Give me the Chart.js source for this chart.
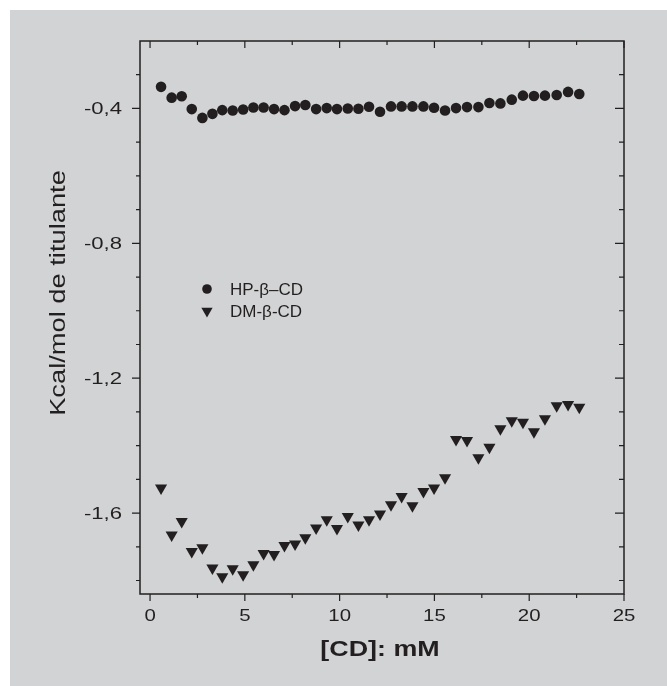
<!DOCTYPE html>
<html>
<head>
<meta charset="utf-8">
<script src="https://cdn.jsdelivr.net/npm/chart.js@4.4.1/dist/chart.umd.min.js"></script>
<style>
  html, body { margin: 0; padding: 0; background: #fff; }
  #c { position: absolute; left: 0; top: 0; }
</style>
</head>
<body>
<canvas id="c" width="667" height="686"></canvas>
<script>
// [CD] in mM (same titration steps for both cyclodextrins)
const cdConc = [0.58, 1.14, 1.67, 2.20, 2.76, 3.29, 3.81, 4.36, 4.91, 5.45,
                5.99, 6.54, 7.09, 7.65, 8.19, 8.76, 9.32, 9.86, 10.43, 10.99,
                11.55, 12.13, 12.71, 13.27, 13.84, 14.42, 14.98, 15.56, 16.14, 16.72,
                17.32, 17.90, 18.48, 19.08, 19.67, 20.25, 20.83, 21.45, 22.05, 22.64];

const hpBeta = [-0.336, -0.368, -0.364, -0.402, -0.428, -0.416, -0.405, -0.406, -0.403, -0.397,
                -0.397, -0.402, -0.405, -0.393, -0.390, -0.402, -0.399, -0.402, -0.400, -0.401,
                -0.395, -0.410, -0.394, -0.394, -0.394, -0.394, -0.398, -0.406, -0.399, -0.396,
                -0.396, -0.384, -0.385, -0.374, -0.362, -0.363, -0.362, -0.360, -0.351, -0.357];

const dmBeta = [-1.526, -1.665, -1.625, -1.714, -1.703, -1.763, -1.789, -1.765, -1.783, -1.753,
                -1.720, -1.723, -1.696, -1.692, -1.673, -1.644, -1.620, -1.646, -1.610, -1.635,
                -1.620, -1.603, -1.575, -1.551, -1.578, -1.536, -1.526, -1.495, -1.382, -1.385,
                -1.436, -1.405, -1.350, -1.326, -1.331, -1.359, -1.320, -1.282, -1.278, -1.286];

const seriesNames = ['HP-\u03b2\u2013CD', 'DM-\u03b2-CD'];

const xTicks = [0, 5, 10, 15, 20, 25];
const xTickLabels = ['0', '5', '10', '15', '20', '25'];
const xMinor = [2.5, 7.5, 12.5, 17.5, 22.5];
const yTicks = [-0.4, -0.8, -1.2, -1.6];
const yTickLabels = ['-0,4', '-0,8', '-1,2', '-1,6'];
const yMinor = [-1.8, -1.7, -1.5, -1.4, -1.3, -1.1, -1.0, -0.9, -0.7, -0.6, -0.5, -0.3];

const ink = '#231f20';
const panel = '#d1d3d4';
const fontName = "'Liberation Sans', Arial, sans-serif";

function stretchText(ctx, txt, x, y, align, sx) {
    ctx.save();
    ctx.translate(x, y);
    ctx.scale(sx, 1);
    ctx.textAlign = align;
    ctx.textBaseline = 'alphabetic';
    ctx.fillText(txt, 0, 0);
    ctx.restore();
}

function marker(ctx, style, x, y) {
    if (Chart.helpers && Chart.helpers.drawPoint) {
        Chart.helpers.drawPoint(ctx, style, x, y);
    }
}

const panelPlugin = {
    id: 'panel',
    beforeDraw(chart) {
        const ctx = chart.ctx;
        ctx.save();
        ctx.fillStyle = '#fff';
        ctx.fillRect(0, 0, chart.width, chart.height);
        ctx.fillStyle = panel;
        ctx.fillRect(10, 10, chart.width - 10, chart.height - 10);
        ctx.restore();
    }
};

const framePlugin = {
    id: 'frame',
    afterDraw(chart) {
        const ctx = chart.ctx;
        const xs = chart.scales.x, ys = chart.scales.y;
        const a = chart.chartArea;
        ctx.save();
        ctx.strokeStyle = ink;
        ctx.fillStyle = ink;
        ctx.lineWidth = 1.5;
        ctx.strokeRect(a.left, a.top, a.right - a.left, a.bottom - a.top);

        ctx.lineWidth = 1.2;
        ctx.beginPath();
        // x ticks: bottom outward, top inward
        xTicks.forEach(v => {
            const p = xs.getPixelForValue(v);
            ctx.moveTo(p, a.bottom); ctx.lineTo(p, a.bottom + 7);
            ctx.moveTo(p, a.top); ctx.lineTo(p, a.top + 7);
        });
        xMinor.forEach(v => {
            const p = xs.getPixelForValue(v);
            ctx.moveTo(p, a.bottom); ctx.lineTo(p, a.bottom + 4);
            ctx.moveTo(p, a.top); ctx.lineTo(p, a.top + 4);
        });
        // y ticks: left outward, right inward
        yTicks.forEach(v => {
            const p = ys.getPixelForValue(v);
            ctx.moveTo(a.left, p); ctx.lineTo(a.left - 8, p);
            ctx.moveTo(a.right, p); ctx.lineTo(a.right - 9, p);
        });
        yMinor.forEach(v => {
            const p = ys.getPixelForValue(v);
            ctx.moveTo(a.left, p); ctx.lineTo(a.left - 4, p);
            ctx.moveTo(a.right, p); ctx.lineTo(a.right - 5, p);
        });
        ctx.stroke();

        // tick labels
        ctx.font = '17px ' + fontName;
        xTicks.forEach((v, i) => {
            stretchText(ctx, xTickLabels[i], xs.getPixelForValue(v), a.bottom + 27, 'center', 1.2);
        });
        yTicks.forEach((v, i) => {
            stretchText(ctx, yTickLabels[i], a.left - 18, ys.getPixelForValue(v) + 6, 'right', 1.3);
        });

        // axis titles
        ctx.font = 'bold 22px ' + fontName;
        stretchText(ctx, '[CD]: mM', (a.left + a.right) / 2 - 2, 656, 'center', 1.22);

        ctx.save();
        ctx.translate(65, 293);
        ctx.rotate(-Math.PI / 2);
        ctx.font = '22px ' + fontName;
        stretchText(ctx, 'Kcal/mol de titulante', 0, 0, 'center', 1.24);
        ctx.restore();

        // legend
        const ds = chart.data.datasets;
        const rows = [289, 311];
        ds.forEach((d, i) => {
            ctx.fillStyle = ink;
            marker(ctx, {
                pointStyle: d.pointStyle,
                radius: d.pointRadius - 0.5,
                rotation: d.rotation || 0,
                borderWidth: 0
            }, 207, rows[i]);
            ctx.font = '17px ' + fontName;
            stretchText(ctx, d.label, 230, rows[i] + 6, 'left', 1.0);
        });
        ctx.restore();
    }
};

new Chart(document.getElementById('c'), {
    type: 'scatter',
    data: {
        datasets: [
            {
                label: seriesNames[0],
                data: cdConc.map((x, i) => ({ x: x, y: hpBeta[i] })),
                pointStyle: 'circle',
                pointRadius: 5.3,
                backgroundColor: ink,
                borderWidth: 0
            },
            {
                label: seriesNames[1],
                data: cdConc.map((x, i) => ({ x: x, y: dmBeta[i] })),
                pointStyle: 'triangle',
                rotation: 180,
                pointRadius: 7,
                backgroundColor: ink,
                borderWidth: 0
            }
        ]
    },
    options: {
        responsive: false,
        animation: false,
        devicePixelRatio: 1,
        layout: { padding: { left: 140, top: 41, right: 43, bottom: 92 } },
        plugins: {
            legend: { display: false },
            tooltip: { enabled: false }
        },
        scales: {
            x: { type: 'linear', min: -0.53, max: 25, display: false },
            y: { type: 'linear', min: -1.84, max: -0.2, display: false }
        }
    },
    plugins: [panelPlugin, framePlugin]
});
</script>
</body>
</html>
